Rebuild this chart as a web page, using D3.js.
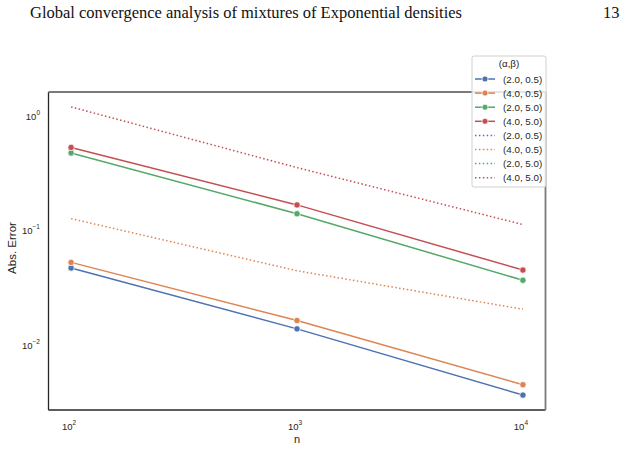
<!DOCTYPE html>
<html>
<head>
<meta charset="utf-8">
<script src="https://cdn.jsdelivr.net/npm/d3@7"></script>
<style>
  body { margin: 0; background: #fff; }
  svg { display: block; }
</style>
</head>
<body>
<script>
const W = 628, H = 474;

// sample sizes
const nValues = [100, 1000, 10000];

// legend labels (alpha, beta)
const labels = ["(2.0, 0.5)", "(4.0, 0.5)", "(2.0, 5.0)", "(4.0, 5.0)"];
const colors = ["#4c72b0", "#dd8452", "#55a868", "#c44e52"];

// solid lines with markers
const solid_20_05 = [0.0449, 0.0132, 0.00348];
const solid_40_05 = [0.0503, 0.0156, 0.00429];
const solid_20_50 = [0.455, 0.134, 0.0351];
const solid_40_50 = [0.509, 0.160, 0.0431];

// dotted reference lines (only orange and red are visible in the figure)
const dotted_40_05 = [0.1214, 0.0425, 0.0196];
const dotted_40_50 = [1.15, 0.339, 0.1077];

const solidSeries = [solid_20_05, solid_40_05, solid_20_50, solid_40_50];
const dottedSeries = [
  { values: dotted_40_05, color: colors[1] },
  { values: dotted_40_50, color: colors[3] }
];

const xTicks = [100, 1000, 10000];
const yTicks = [1, 0.1, 0.01];

const svg = d3.select("body").append("svg")
  .attr("width", W).attr("height", H);

// page header
svg.append("text")
  .attr("x", 30).attr("y", 18)
  .attr("font-family", "Liberation Serif, DejaVu Serif, serif")
  .attr("font-size", 16.5)
  .attr("textLength", 432).attr("lengthAdjust", "spacing")
  .attr("fill", "#111")
  .text("Global convergence analysis of mixtures of Exponential densities");
svg.append("text")
  .attr("x", 603).attr("y", 18)
  .attr("font-family", "Liberation Serif, DejaVu Serif, serif")
  .attr("font-size", 16.5)
  .attr("fill", "#111")
  .text("13");

const plot = { left: 48.5, right: 545.5, top: 92, bottom: 410 };

// matplotlib-like 5% log margins
function padLog(lo, hi) {
  const a = Math.log10(lo), b = Math.log10(hi), s = b - a;
  return [Math.pow(10, a - 0.05 * s), Math.pow(10, b + 0.05 * s)];
}

const allY = solidSeries.flat().concat(dottedSeries.map(d => d.values).flat());
const x = d3.scaleLog()
  .domain(padLog(d3.min(nValues), d3.max(nValues)))
  .range([plot.left, plot.right]);
const y = d3.scaleLog()
  .domain(padLog(d3.min(allY), d3.max(allY)))
  .range([plot.bottom - 0.5, plot.top + 0.5]);

const font = "Liberation Sans, Arial, sans-serif";

// tick labels 10^k
function powLabel(sel, v) {
  const k = Math.round(Math.log10(v));
  sel.append("tspan").text("10");
  sel.append("tspan")
    .attr("font-size", 6.5)
    .attr("dy", -5)
    .text(k < 0 ? "\u2212" + (-k) : k);
}

const xAxis = svg.append("g").attr("class", "x-axis");
xTicks.forEach(v => {
  const t = xAxis.append("text")
    .attr("x", x(v) - 2).attr("y", 430)
    .attr("text-anchor", "middle")
    .attr("font-family", font).attr("font-size", 9.5)
    .attr("fill", "#262626");
  powLabel(t, v);
});

const yAxis = svg.append("g").attr("class", "y-axis");
yTicks.forEach(v => {
  const t = yAxis.append("text")
    .attr("x", 40).attr("y", y(v) + 6)
    .attr("text-anchor", "end")
    .attr("font-family", font).attr("font-size", 9.5)
    .attr("fill", "#262626");
  powLabel(t, v);
});

svg.append("text")
  .attr("x", 297).attr("y", 443)
  .attr("text-anchor", "middle")
  .attr("font-family", font).attr("font-size", 11)
  .attr("fill", "#262626")
  .text("n");

svg.append("text")
  .attr("transform", `translate(16,248) rotate(-90)`)
  .attr("text-anchor", "middle")
  .attr("font-family", font).attr("font-size", 11.5)
  .attr("fill", "#262626")
  .text("Abs. Error");

const line = d3.line()
  .x((d, i) => x(nValues[i]))
  .y(d => y(d));

const g = svg.append("g");

dottedSeries.forEach(s => {
  g.append("path")
    .datum(s.values)
    .attr("d", line)
    .attr("fill", "none")
    .attr("stroke", s.color)
    .attr("stroke-width", 1.5)
    .attr("stroke-dasharray", "1.5,2.4");
});

solidSeries.forEach((s, i) => {
  g.append("path")
    .datum(s)
    .attr("d", line)
    .attr("fill", "none")
    .attr("stroke", colors[i])
    .attr("stroke-width", 1.5);
  g.selectAll(null)
    .data(s)
    .join("circle")
    .attr("cx", (d, j) => x(nValues[j]))
    .attr("cy", d => y(d))
    .attr("r", 3.2)
    .attr("fill", colors[i])
    .attr("stroke", "#fff")
    .attr("stroke-width", 0.75);
});

// spines
svg.append("line").attr("x1", plot.left).attr("x2", plot.left)
  .attr("y1", plot.top).attr("y2", plot.bottom)
  .attr("stroke", "#262626").attr("stroke-width", 1.3);
svg.append("line").attr("x1", plot.left).attr("x2", plot.right)
  .attr("y1", plot.bottom).attr("y2", plot.bottom)
  .attr("stroke", "#262626").attr("stroke-width", 1.3);
svg.append("line").attr("x1", plot.left).attr("x2", plot.right + 0.5)
  .attr("y1", plot.top).attr("y2", plot.top)
  .attr("stroke", "#7a7a7a").attr("stroke-width", 1.8);
svg.append("line").attr("x1", plot.right).attr("x2", plot.right)
  .attr("y1", plot.top).attr("y2", plot.bottom)
  .attr("stroke", "#7a7a7a").attr("stroke-width", 1.8);

// legend
const leg = svg.append("g");
leg.append("rect")
  .attr("x", 472).attr("y", 56)
  .attr("width", 74).attr("height", 131)
  .attr("rx", 2)
  .attr("fill", "#fff").attr("fill-opacity", 0.8)
  .attr("stroke", "#d0d0d0").attr("stroke-width", 1);
leg.append("text")
  .attr("x", 509).attr("y", 66.8)
  .attr("text-anchor", "middle")
  .attr("font-family", font).attr("font-size", 9.8)
  .attr("fill", "#262626")
  .text("(\u03b1,\u03b2)");

const entries = labels.map((l, i) => ({ label: l, color: colors[i], dotted: false }))
  .concat(labels.map((l, i) => ({ label: l, color: colors[i], dotted: true })));

entries.forEach((e, i) => {
  const cy = 79 + i * 14.1;
  leg.append("line")
    .attr("x1", 475).attr("x2", 495)
    .attr("y1", cy).attr("y2", cy)
    .attr("stroke", e.color).attr("stroke-width", 1.5)
    .attr("stroke-dasharray", e.dotted ? "1.5,2.4" : null);
  if (!e.dotted) {
    leg.append("circle")
      .attr("cx", 485).attr("cy", cy).attr("r", 3)
      .attr("fill", e.color).attr("stroke", "#fff").attr("stroke-width", 0.75);
  }
  leg.append("text")
    .attr("x", 503).attr("y", cy + 3.5)
    .attr("font-family", font).attr("font-size", 9.8)
    .attr("fill", "#262626")
    .text(e.label);
});
</script>
</body>
</html>
